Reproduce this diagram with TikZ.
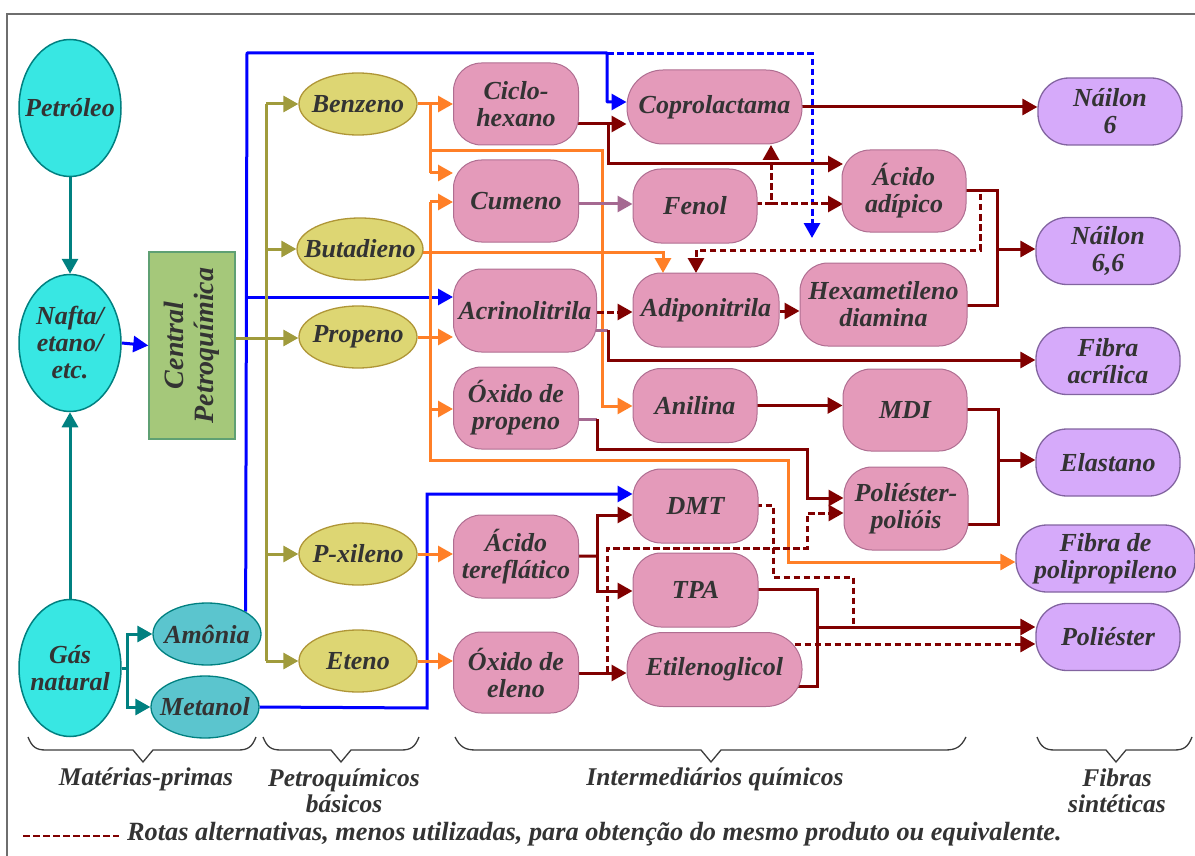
\documentclass[tikz,border=0pt]{standalone}
\usepackage{fontspec}
\setmainfont{Liberation Serif}
\usetikzlibrary{arrows.meta,shapes.geometric}
\pgfdeclarelayer{bg}
\pgfsetlayers{bg,main}
\definecolor{cyanF}{RGB}{56,231,227}
\definecolor{tealc}{RGB}{0,128,128}
\definecolor{amoF}{RGB}{91,197,206}
\definecolor{yelF}{RGB}{221,214,115}
\definecolor{yelB}{RGB}{175,150,55}
\definecolor{greenF}{RGB}{165,200,122}
\definecolor{greenB}{RGB}{95,160,115}
\definecolor{pinkF}{RGB}{228,154,186}
\definecolor{pinkB}{RGB}{175,110,145}
\definecolor{purF}{RGB}{214,170,250}
\definecolor{purB}{RGB}{130,100,160}
\definecolor{drc}{RGB}{128,0,0}
\definecolor{blc}{RGB}{0,0,255}
\definecolor{orc}{RGB}{255,127,39}
\definecolor{olc}{RGB}{160,155,60}
\definecolor{mvc}{RGB}{165,105,145}
\definecolor{txtc}{RGB}{51,51,51}
\definecolor{brc}{RGB}{60,60,60}
\definecolor{frc}{RGB}{110,110,110}
\begin{document}
\begin{tikzpicture}[x=1pt,y=-1pt,
  txt/.style={font=\fontsize{26}{27}\selectfont\bfseries\itshape, text=txtc, align=center, inner sep=0pt},
  cyanell/.style={ellipse, fill=cyanF, draw=tealc, line width=1.5pt, inner sep=0pt, minimum width=102pt, minimum height=137pt},
  smallell/.style={ellipse, fill=amoF, draw=tealc, line width=1.3pt, inner sep=0pt, minimum width=108pt, minimum height=62pt},
  yell/.style={ellipse, fill=yelF, draw=yelB, line width=1.3pt, inner sep=0pt, minimum width=118pt, minimum height=62pt},
  pbox/.style={txt, rectangle, rounded corners=28pt, fill=pinkF, draw=pinkB, line width=1pt, minimum width=125pt, minimum height=82pt},
  vbox/.style={txt, rectangle, rounded corners=31pt, fill=purF, draw=purB, line width=1.3pt, minimum width=144pt, minimum height=67pt},
  ln/.style={line width=3pt},
  arr/.style={-{Triangle[length=15pt,width=16pt]}},
  tl/.style={ln, draw=tealc},
  bl/.style={ln, draw=blc},
  ol/.style={ln, draw=olc},
  orl/.style={ln, draw=orc},
  drl/.style={ln, draw=drc},
  mvl/.style={ln, draw=mvc},
  dsh/.style={dash pattern=on 6.5pt off 3.5pt},
  brl/.style={draw=brc, line width=1.3pt},
  lbl/.style={txt, font=\fontsize{25.5}{26}\selectfont\bfseries\itshape}
]
\useasboundingbox (0,0) rectangle (1195,856);
\draw[frc, line width=1.5pt] (7,856) -- (7,14) -- (1195,14);

% raw materials
\node[cyanell, label={[txt]center:Petróleo}] (pet) at (70,108) {};
\node[cyanell, label={[txt]center:{Nafta/\\etano/\\etc.}}] (naf) at (70,343) {};
\node[cyanell, label={[txt]center:{Gás\\natural}}] (gas) at (70,668) {};
\node[smallell, label={[txt]center:Amônia}] (amo) at (207,634) {};
\node[smallell, label={[txt]center:Metanol}] (met) at (205,707) {};
\node[rectangle, fill=greenF, draw=greenB, line width=1.5pt, minimum width=86pt, minimum height=187pt] (cen) at (192,345.5) {};
\node[txt, font=\fontsize{28}{30}\selectfont\bfseries\itshape, rotate=90] at (cen) {Central\\Petroquímica};

% basic petrochemicals
\node[yell, label={[txt]center:Benzeno}] (ben) at (358,104) {};
\node[yell, minimum width=126pt, label={[txt]center:Butadieno}] (but) at (360,249) {};
\node[yell, label={[txt]center:Propeno}] (pro) at (358,337) {};
\node[yell, label={[txt]center:P-xileno}] (pxi) at (358,554) {};
\node[yell, label={[txt]center:Eteno}] (ete) at (358,661) {};

% intermediates
\node[pbox] (cic) at (516,104) {Ciclo-\\hexano};
\node[pbox] (cum) at (516,201) {Cumeno};
\node[pbox, minimum width=143pt, minimum height=83pt] (acr) at (525,310.5) {Acrinolitrila};
\node[pbox] (oxp) at (516,408) {Óxido de\\propeno};
\node[pbox, minimum height=83pt] (atf) at (516,556.5) {Ácido\\tereflático};
\node[pbox, minimum height=81pt] (oxe) at (516,672.5) {Óxido de\\eleno};
\node[pbox, rounded corners=36pt, minimum width=175pt, minimum height=74pt] (cop) at (714.5,107) {Coprolactama};
\node[pbox, minimum width=124pt, minimum height=74pt] (fen) at (695,206) {Fenol};
\node[pbox, minimum width=146pt, minimum height=74pt] (adi) at (706,310) {Adiponitrila};
\node[pbox, minimum width=124pt, minimum height=74pt] (ani) at (695,405.5) {Anilina};
\node[pbox, minimum width=125pt, minimum height=74pt] (dmt) at (695.5,506) {DMT};
\node[pbox, minimum width=125pt, minimum height=74pt] (tpa) at (695.5,590) {TPA};
\node[pbox, rounded corners=36pt, minimum width=175pt, minimum height=74pt] (eti) at (714.5,669.5) {Etilenoglicol};
\node[pbox, minimum width=124pt] (aad) at (904,191) {Ácido\\adípico};
\node[pbox, minimum width=167pt, minimum height=83pt] (hex) at (883.5,304.5) {Hexametileno\\diamina};
\node[pbox, minimum width=124pt] (mdi) at (905,410) {MDI};
\node[pbox, minimum width=124pt, minimum height=83pt] (ppo) at (906,508.5) {Poliéster-\\polióis};

% fibres
\node[vbox] (n6) at (1110,111.5) {Náilon\\6};
\node[vbox] (n66) at (1108,251) {Náilon\\6,6};
\node[vbox] (fac) at (1108,361) {Fibra\\acrílica};
\node[vbox] (ela) at (1108,462.5) {Elastano};
\node[vbox, minimum width=179pt] (fpp) at (1105.5,558.5) {Fibra de\\polipropileno};
\node[vbox] (pol) at (1108,637) {Poliéster};

\begin{pgfonlayer}{bg}
% teal
\draw[tl, arr] (pet.south) -- (naf.north);
\draw[tl, arr] (gas.north) -- (naf.south);
\draw[tl] (gas.east) -- (127,668);
\draw[tl, arr] (127,668) |- (amo.west);
\draw[tl, arr] (127,668) |- (met.west);
% blue
\draw[bl, arr] (naf.east) -- (cen.west);
\draw[bl, arr, line join=round] (amo.north east) -- (247,53) -- (607,53) -- (607,102) -- (cop.west|-0,102);
\draw[bl, dsh, arr] (607,54) -- (812,54) -- (812,238);
\draw[bl, arr] (247,297) -- (acr.west|-0,297);
\draw[bl, arr] (met.east) -- (427,708) -- (427,494) -- (dmt.west|-0,494);
% olive
\draw[ol] (266,104) -- (266,661);
\draw[ol, arr] (cen.east|-0,338) -- (pro.west|-0,338);
\draw[ol, arr] (266,104) -- (ben.west);
\draw[ol, arr] (266,249) -- (but.west);
\draw[ol, arr] (266,554) -- (pxi.west);
\draw[ol, arr] (266,661) -- (ete.west);
% orange
\draw[orl, arr] (ben.east) -- (cic.west);
\draw[orl] (430,104) -- (430,173);
\draw[orl, arr] (430,173) -- (cum.west|-0,173);
\draw[orl, arr] (430,151) -- (602,151) -- (602,406) -- (ani.west|-0,406);
\draw[orl, arr] (but.center|-0,252) -- (663,252) -- (663,273);
\draw[orl, arr] (pro.east) -- (acr.west|-pro.east);
\draw[orl, arr] (430,202) -- (cum.west|-0,202);
\draw[orl, arr] (430,409) -- (oxp.west|-0,409);
\draw[orl, arr] (430,202) -- (430,460) -- (788,460) -- (788,562) -- (fpp.west|-0,562);
\draw[orl, arr] (pxi.east) -- (atf.west|-pxi.east);
\draw[orl, arr] (ete.east) -- (oxe.west|-ete.east);
% dark red
\draw[drl, arr] (cic.center|-0,124) -- (cop.west|-0,124);
\draw[drl, arr] (608,124) -- (608,164) -- (843,164);
\draw[drl, arr] (cop.center) -- (n6.west|-cop.center);
\draw[mvl, arr] (cum.center|-0,204) -- (fen.west|-0,204);
\draw[drl, dsh, arr] (fen.center|-0,204) -- (771,204) -- (771,145);
\draw[drl, dsh, arr] (771,204) -- (843,204);
\draw[drl, dsh, arr] (acr.east|-0,312) -- (adi.west|-0,312);
\draw[drl, arr] (adi.east|-0,311) -- (hex.west|-0,311);
\draw[drl] (aad.center) -- (997,191) -- (997,305) -- (hex.center|-0,305);
\draw[drl, arr] (997,249) -- (n66.west|-0,249);
\draw[drl, dsh, arr] (980,194) -- (980,250) -- (696,250) -- (696,273);
\draw[mvl] (acr.center|-0,330) -- (608,330);
\draw[drl, arr] (608,330) -- (608,360) -- (fac.west|-0,360);
\draw[drl, arr] (ani.center) -- (mdi.west|-ani.center);
\draw[drl] (mdi.center|-0,409) -- (998,409) -- (998,524) -- (ppo.center|-0,524);
\draw[drl, arr] (998,460) -- (ela.west|-0,460);
\draw[mvl] (oxp.center|-0,419) -- (597,419);
\draw[drl, arr] (597,419) -- (597,449) -- (807,449) -- (807,498) -- (ppo.west|-0,498);
\draw[drl, dsh, arr] (607,672) -- (607,548) -- (807,548) -- (807,513) -- (ppo.west|-0,513);
\draw[drl] (atf.center) -- (597,556);
\draw[drl, arr] (597,556) -- (597,515) -- (dmt.west|-0,515);
\draw[drl, arr] (597,556) -- (597,591) -- (tpa.west|-0,591);
\draw[drl, arr] (oxe.center|-0,673) -- (eti.west|-0,673);
\draw[drl, dsh] (dmt.center|-0,505) -- (773,505) -- (773,577) -- (853,577) -- (853,627);
\draw[drl] (tpa.center|-0,589) -- (817,589) -- (817,686) -- (eti.center|-0,686);
\draw[drl, arr] (817,627) -- (pol.west|-0,627);
\draw[drl, dsh, arr] (eti.center|-0,644) -- (pol.west|-0,644);
\end{pgfonlayer}

% braces
\draw[brl] (28,737) .. controls (32,747) and (36,750) .. (46,750) -- (133,750) -- (143,762) -- (153,750) -- (238,750) .. controls (248,750) and (252,747) .. (256,737);
\draw[brl] (263,737) .. controls (267,747) and (271,750) .. (281,750) -- (331,750) -- (341,762) -- (351,750) -- (401,750) .. controls (411,750) and (415,747) .. (419,737);
\draw[brl] (455,737) .. controls (460,747) and (465,750) .. (476,750) -- (701,750) -- (711,762) -- (721,750) -- (945,750) .. controls (956,750) and (961,747) .. (966,737);
\draw[brl] (1037,737) .. controls (1041,747) and (1045,750) .. (1055,750) -- (1106,750) -- (1116,762) -- (1126,750) -- (1174,750) .. controls (1184,750) and (1188,747) .. (1192,737);

\node[lbl] (l1) at (146,779) {Matérias-primas};
\node[lbl] (l2) at (344,791) {Petroquímicos\\básicos};
\node[lbl] (l3) at (715,779) {Intermediários químicos};
\node[lbl] (l4) at (1117,791) {Fibras\\sintéticas};

\coordinate (k1) at (23,836);
\coordinate (k2) at (119,836);
\draw[drc, line width=2.8pt, dsh] (k1) -- (k2);
\node[txt, font=\fontsize{26.3}{27}\selectfont\bfseries\itshape, anchor=west] (foot) at (127,834) {Rotas alternativas, menos utilizadas, para obtenção do mesmo produto ou equivalente.};
\end{tikzpicture}
\end{document}
